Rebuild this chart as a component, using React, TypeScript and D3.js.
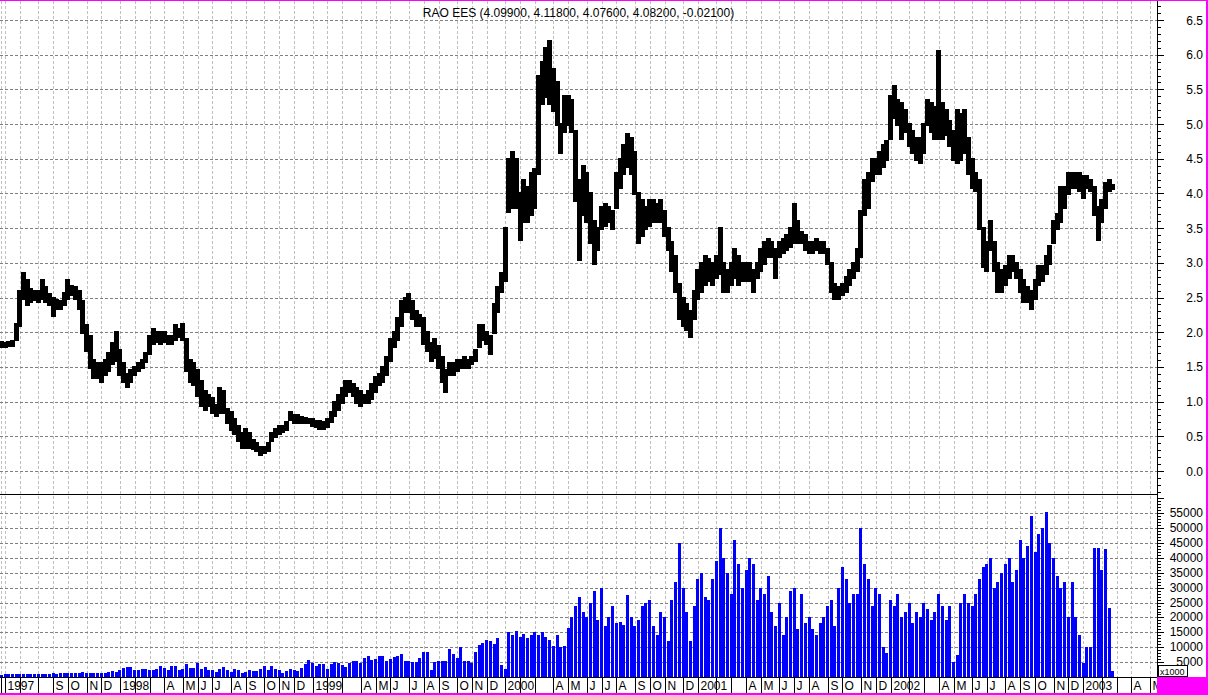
import React from 'react';
import * as d3 from 'd3';

const TITLE = 'RAO EES (4.09900, 4.11800, 4.07600, 4.08200, -0.02100)';
const FIRST_MONDAY = new Date(1997, 4, 26);
const LAST_SLOT = 312;

const weeklyHigh = [
  1.86,1.85,1.86,1.88,2.12,2.60,2.85,2.75,2.62,2.60,
  2.60,2.75,2.65,2.55,2.50,2.47,2.45,2.56,2.75,2.66,
  2.65,2.60,2.45,2.10,1.95,1.60,1.55,1.55,1.60,1.70,
  1.85,2.00,1.75,1.55,1.40,1.45,1.50,1.55,1.60,1.70,
  1.95,2.05,2.00,2.00,2.00,1.95,1.95,2.10,2.05,2.12,
  1.90,1.60,1.55,1.45,1.30,1.15,1.10,1.05,0.95,1.20,
  1.15,0.90,0.85,0.75,0.65,0.55,0.60,0.55,0.45,0.40,
  0.35,0.35,0.40,0.55,0.60,0.65,0.65,0.70,0.85,0.80,
  0.80,0.78,0.76,0.75,0.75,0.72,0.72,0.70,0.75,0.85,
  1.00,1.10,1.20,1.30,1.30,1.25,1.20,1.15,1.10,1.15,
  1.25,1.35,1.40,1.50,1.65,1.90,2.00,2.20,2.45,2.50,
  2.55,2.45,2.30,2.25,2.20,2.00,1.85,1.90,1.80,1.65,
  1.45,1.55,1.55,1.60,1.60,1.65,1.60,1.65,1.75,2.10,
  2.10,2.00,1.95,2.40,2.65,2.85,3.50,4.50,4.60,4.50,
  4.00,4.20,4.10,4.30,4.35,5.70,5.90,6.10,6.20,5.80,
  5.60,5.00,5.40,5.40,5.35,4.90,4.20,4.40,4.30,4.00,
  3.60,3.50,3.80,3.85,3.80,3.75,4.30,4.50,4.70,4.85,
  4.80,4.60,4.00,3.90,3.80,3.90,3.90,3.85,3.90,3.75,
  3.50,3.30,3.10,2.70,2.50,2.40,2.30,2.60,2.90,3.00,
  3.10,3.05,3.00,3.10,3.50,3.00,2.90,3.00,3.20,3.10,
  3.00,3.00,3.00,2.90,3.00,3.20,3.30,3.35,3.30,3.20,
  3.30,3.35,3.40,3.50,3.85,3.60,3.45,3.40,3.30,3.30,
  3.35,3.30,3.30,3.20,3.00,2.70,2.65,2.70,2.80,2.90,
  3.00,3.20,3.75,4.20,4.30,4.50,4.50,4.60,4.70,4.75,
  5.40,5.55,5.35,5.30,5.20,5.00,4.90,4.80,4.80,5.00,
  5.35,5.30,5.25,6.05,5.30,5.20,5.05,4.90,5.20,5.15,
  5.20,4.80,4.50,4.30,4.20,3.50,3.30,3.60,3.30,3.00,
  2.90,2.95,3.10,3.10,3.00,2.90,2.75,2.65,2.60,2.75,
  2.95,2.95,3.10,3.25,3.60,3.70,4.10,4.10,4.30,4.30,
  4.30,4.30,4.25,4.25,4.20,4.10,3.80,3.90,4.15,4.20,4.118,
];

const weeklyLow = [
  1.80,1.80,1.81,1.82,1.90,2.10,2.50,2.40,2.45,2.48,
  2.45,2.50,2.45,2.40,2.25,2.35,2.35,2.40,2.50,2.55,
  2.50,2.35,2.00,1.75,1.50,1.35,1.35,1.30,1.40,1.45,
  1.55,1.60,1.40,1.30,1.22,1.30,1.40,1.45,1.50,1.58,
  1.70,1.85,1.88,1.85,1.88,1.85,1.85,1.90,1.95,1.90,
  1.45,1.30,1.25,1.10,0.95,0.90,0.95,0.85,0.80,0.85,
  0.85,0.70,0.60,0.55,0.45,0.35,0.35,0.35,0.33,0.30,
  0.25,0.28,0.30,0.45,0.50,0.55,0.58,0.60,0.75,0.70,
  0.70,0.70,0.70,0.70,0.66,0.65,0.62,0.62,0.65,0.72,
  0.80,0.90,1.00,1.10,1.15,1.10,1.00,0.95,1.00,1.00,
  1.05,1.15,1.25,1.30,1.40,1.60,1.80,1.90,2.10,2.30,
  2.30,2.20,2.10,2.10,1.85,1.75,1.60,1.65,1.50,1.30,
  1.15,1.40,1.40,1.45,1.50,1.50,1.50,1.55,1.60,1.80,
  1.90,1.85,1.70,2.00,2.30,2.60,2.75,3.75,3.80,3.80,
  3.35,3.60,3.60,3.70,3.80,4.30,5.30,5.40,5.30,5.20,
  5.00,4.60,4.90,5.00,4.90,3.90,3.05,3.70,3.60,3.30,
  3.00,3.20,3.50,3.55,3.60,3.50,3.80,4.10,4.30,4.40,
  4.30,4.00,3.30,3.40,3.50,3.55,3.60,3.60,3.60,3.40,
  3.20,2.90,2.60,2.20,2.10,2.05,1.95,2.20,2.50,2.60,
  2.70,2.75,2.70,2.80,2.85,2.60,2.60,2.70,2.80,2.70,
  2.75,2.75,2.75,2.60,2.80,2.90,3.00,3.10,3.10,2.80,
  3.10,3.15,3.20,3.25,3.30,3.30,3.30,3.20,3.15,3.15,
  3.20,3.15,3.15,3.00,2.60,2.50,2.50,2.55,2.60,2.70,
  2.80,2.90,3.10,3.70,3.80,4.20,4.30,4.30,4.40,4.50,
  4.80,5.10,5.00,4.80,4.90,4.70,4.60,4.50,4.45,4.60,
  5.00,4.90,4.80,4.80,4.80,4.85,4.70,4.50,4.45,4.50,
  4.60,4.30,4.10,4.05,3.50,2.95,2.90,3.20,2.90,2.60,
  2.60,2.70,2.80,2.90,2.80,2.60,2.45,2.45,2.35,2.50,
  2.70,2.75,2.85,3.00,3.30,3.50,3.60,3.80,4.00,4.10,
  4.10,4.05,3.95,4.10,4.05,3.70,3.35,3.60,3.80,4.05,4.076,
];

const weeklyVolume = [
  800,900,1000,900,1100,1000,900,1000,1000,900,
  1000,1100,1000,900,1200,1100,1300,1400,1300,1500,
  1400,1500,1600,1400,1500,1500,1300,1400,1500,1800,
  2000,1800,2400,3000,3500,3200,2500,2400,2800,2700,
  2500,2200,2600,3800,2900,2400,3800,3600,2400,2800,
  4500,3000,3100,4800,2700,3200,2200,2400,1600,2600,
  3200,2200,1800,2700,2400,1500,1800,2200,2100,1900,
  2800,3600,2400,3800,2800,2200,1200,2100,2800,2300,
  2000,3000,4300,5600,4800,3700,4200,4200,2800,4400,
  5000,4600,3900,3500,4600,5400,5400,4800,6500,7000,
  5800,6200,7200,7000,5500,6200,6700,6900,7600,5400,
  5400,5000,5000,6500,8400,8400,2300,5000,5500,5300,
  5300,9300,7600,6500,10000,5400,5400,4700,8400,10600,
  11500,12500,12000,11200,13000,3900,2600,15000,14000,15500,
  13500,14500,13000,14000,15000,14000,15000,13500,12500,10500,
  14000,10000,10500,16500,20000,24000,27000,22000,20000,25000,
  29000,19000,30000,17000,20000,24000,18000,18500,17500,27500,
  20000,17000,19000,24000,25000,26000,17000,14000,22000,20000,
  12000,26000,32000,45000,30000,22000,12000,24000,33000,35000,
  27000,26000,33000,39000,50000,40000,35000,28000,46000,38000,
  30000,36000,40000,38000,26000,30000,28000,34000,22000,17000,
  25000,14000,20000,29000,30000,16000,28000,18000,20000,16000,
  14000,18000,20000,24000,26000,17000,30000,37000,33000,25000,
  28000,28000,50000,38000,33000,24000,30000,28000,10000,8000,
  26000,24000,28000,20000,22000,25000,18000,22000,20000,25000,
  23000,19000,22000,28000,24000,19000,24000,5000,7300,25000,
  28000,25000,24000,28000,33000,37000,38000,40000,30000,32000,
  35000,38000,40000,32000,36000,46000,40000,44000,54000,42000,
  48000,50000,55500,45000,40000,34000,30000,32000,20000,32000,
  20000,14000,4700,10000,10000,43500,43500,36000,43000,23300,2000,
];

const priceTickValues = [0, 0.5, 1, 1.5, 2, 2.5, 3, 3.5, 4, 4.5, 5, 5.5, 6, 6.5];
const priceTickLabels = ['0.0','0.5','1.0','1.5','2.0','2.5','3.0','3.5','4.0','4.5','5.0','5.5','6.0','6.5'];
const volumeTickValues = [5000,10000,15000,20000,25000,30000,35000,40000,45000,50000,55000];
const volumeTickLabels = ['5000','10000','15000','20000','25000','30000','35000','40000','45000','50000','55000'];
const monthLetters = ['J','F','M','A','M','J','J','A','S','O','N','D'];

const FONT = '"Liberation Sans", Arial, Helvetica, sans-serif';

export default function App() {
  const W = 1208, H = 695;
  const axisX = 1157;
  const priceBottom = 494;
  const volTop = 496;
  const volBottom = 677;
  const bandBottom = 693;

  const x = d3.scaleLinear().domain([0, LAST_SLOT]).range([1.3, 1157.3]);
  const yP = d3.scaleLinear().domain([0, 6.5]).range([471, 20]);
  const yV = d3.scaleLinear().domain([0, 55000]).range([677, 513.3]);

  const wed = (i: number) => d3.timeDay.offset(FIRST_MONDAY, i * 7 + 2);

  const bounds: { i: number; d: Date }[] = [];
  for (let i = 0; i <= LAST_SLOT; i++) {
    const d = wed(i);
    if (i === 0 || d.getMonth() !== wed(i - 1).getMonth()) bounds.push({ i, d });
  }
  const labels: { i: number; text: string }[] = [];
  let skip = 0;
  let first = true;
  bounds.forEach((b, k) => {
    const nextI = k + 1 < bounds.length ? bounds[k + 1].i : LAST_SLOT;
    if (nextI - b.i < 2) return;
    if (first || b.d.getMonth() === 0) {
      labels.push({ i: b.i, text: String(b.d.getFullYear()) });
      skip = 2;
      first = false;
      return;
    }
    if (skip > 0) { skip--; return; }
    labels.push({ i: b.i, text: monthLetters[b.d.getMonth()] });
  });

  const gx = (i: number) => Math.round(x(i)) + 0.5;

  const priceMinor: number[] = [];
  for (let v = -0.3; v <= 6.85; v += 0.1) {
    const vv = Math.round(v * 10) / 10;
    const yy = yP(vv);
    if (yy >= 1 && yy <= priceBottom - 1) priceMinor.push(vv);
  }
  const volMinor: number[] = [];
  for (let v = 0; v <= 60000; v += 1000) {
    const yy = yV(v);
    if (yy >= volTop + 1 && yy <= volBottom) volMinor.push(v);
  }

  return (
    <svg width={W} height={H} style={{ position: 'absolute', left: 0, top: 0, background: '#fff' }}
      fontFamily={FONT}>
      <rect x={0} y={0} width={W} height={H} fill="#fff" />

      <g stroke="#c0c0c0" strokeDasharray="3,2" shapeRendering="crispEdges">
        {bounds.map(b => (
          <g key={'vg' + b.i}>
            <line x1={gx(b.i)} x2={gx(b.i)} y1={1} y2={priceBottom} />
            <line x1={gx(b.i)} x2={gx(b.i)} y1={volTop} y2={volBottom} />
          </g>
        ))}
      </g>
      <g stroke="#808080" strokeDasharray="3,2" shapeRendering="crispEdges">
        {priceTickValues.map(v => (
          <line key={'hp' + v} x1={0} x2={axisX} y1={Math.round(yP(v)) + 0.5} y2={Math.round(yP(v)) + 0.5} />
        ))}
        {volumeTickValues.map(v => (
          <line key={'hv' + v} x1={0} x2={axisX} y1={Math.round(yV(v)) + 0.5} y2={Math.round(yV(v)) + 0.5} />
        ))}
      </g>

      <g fill="#000" shapeRendering="crispEdges">
        {weeklyHigh.map((hi, i) => {
          const lo = weeklyLow[i];
          const top = Math.round(yP(hi)) - 1;
          const bot = Math.round(yP(lo)) + 2;
          const h = Math.max(bot - top, 5);
          return <rect key={'p' + i} x={Math.round(x(i) - 2.5)} y={top} width={5} height={h} />;
        })}
      </g>

      <g fill="#0000ff" shapeRendering="crispEdges">
        {weeklyVolume.map((v, i) => {
          const top = Math.round(yV(v));
          return <rect key={'v' + i} x={Math.round(x(i) - 1.5)} y={top} width={3} height={volBottom - top} />;
        })}
      </g>

      <text x={578.5} y={17} textAnchor="middle" fontSize={12} fill="#000">{TITLE}</text>

      <g stroke="#000" shapeRendering="crispEdges">
        <line x1={0} x2={axisX} y1={priceBottom + 0.5} y2={priceBottom + 0.5} />
        <line x1={0} x2={axisX} y1={volBottom + 0.5} y2={volBottom + 0.5} />
        <line x1={axisX + 0.5} x2={axisX + 0.5} y1={0} y2={volBottom} />
        {bounds.map(b => (
          <line key={'sep' + b.i} x1={gx(b.i)} x2={gx(b.i)} y1={volBottom} y2={bandBottom} />
        ))}
      </g>

      <g fontSize={12} fill="#000">
        {labels.map(l => (
          <text key={'ml' + l.i} x={gx(l.i) + 2} y={690}>{l.text}</text>
        ))}
      </g>

      <g stroke="#000" shapeRendering="crispEdges">
        {priceMinor.map(v => {
          const major = Math.abs(v * 2 - Math.round(v * 2)) < 1e-6;
          const yy = Math.round(yP(v)) + 0.5;
          return <line key={'pt' + v} x1={axisX} x2={axisX + (major ? 7 : 4)} y1={yy} y2={yy} />;
        })}
        {volMinor.map(v => {
          const major = v % 5000 === 0;
          const yy = Math.round(yV(v)) + 0.5;
          return <line key={'vt' + v} x1={axisX} x2={axisX + (major ? 7 : 4)} y1={yy} y2={yy} />;
        })}
      </g>
      <g fontSize={12} fill="#000" textAnchor="end">
        {priceTickValues.map((v, k) => (
          <text key={'pl' + v} x={1203} y={yP(v) + 4.5}>{priceTickLabels[k]}</text>
        ))}
        {volumeTickValues.map((v, k) => (
          <text key={'vl' + v} x={1203} y={yV(v) + 4}>{volumeTickLabels[k]}</text>
        ))}
      </g>

      <rect x={1158.5} y={665.5} width={29} height={11} fill="#fff" stroke="#000" shapeRendering="crispEdges" />
      <text x={1160} y={674.5} fontSize={9} fill="#000">x1000</text>

      <rect x={axisX} y={volBottom} width={W - axisX} height={H - volBottom} fill="#ff00ff" />
      <rect x={0} y={0} width={W} height={1} fill="#ff00ff" />
      <rect x={W - 2} y={0} width={2} height={H} fill="#ff00ff" />
      <rect x={0} y={H - 2} width={W} height={2} fill="#ff00ff" />
    </svg>
  );
}
